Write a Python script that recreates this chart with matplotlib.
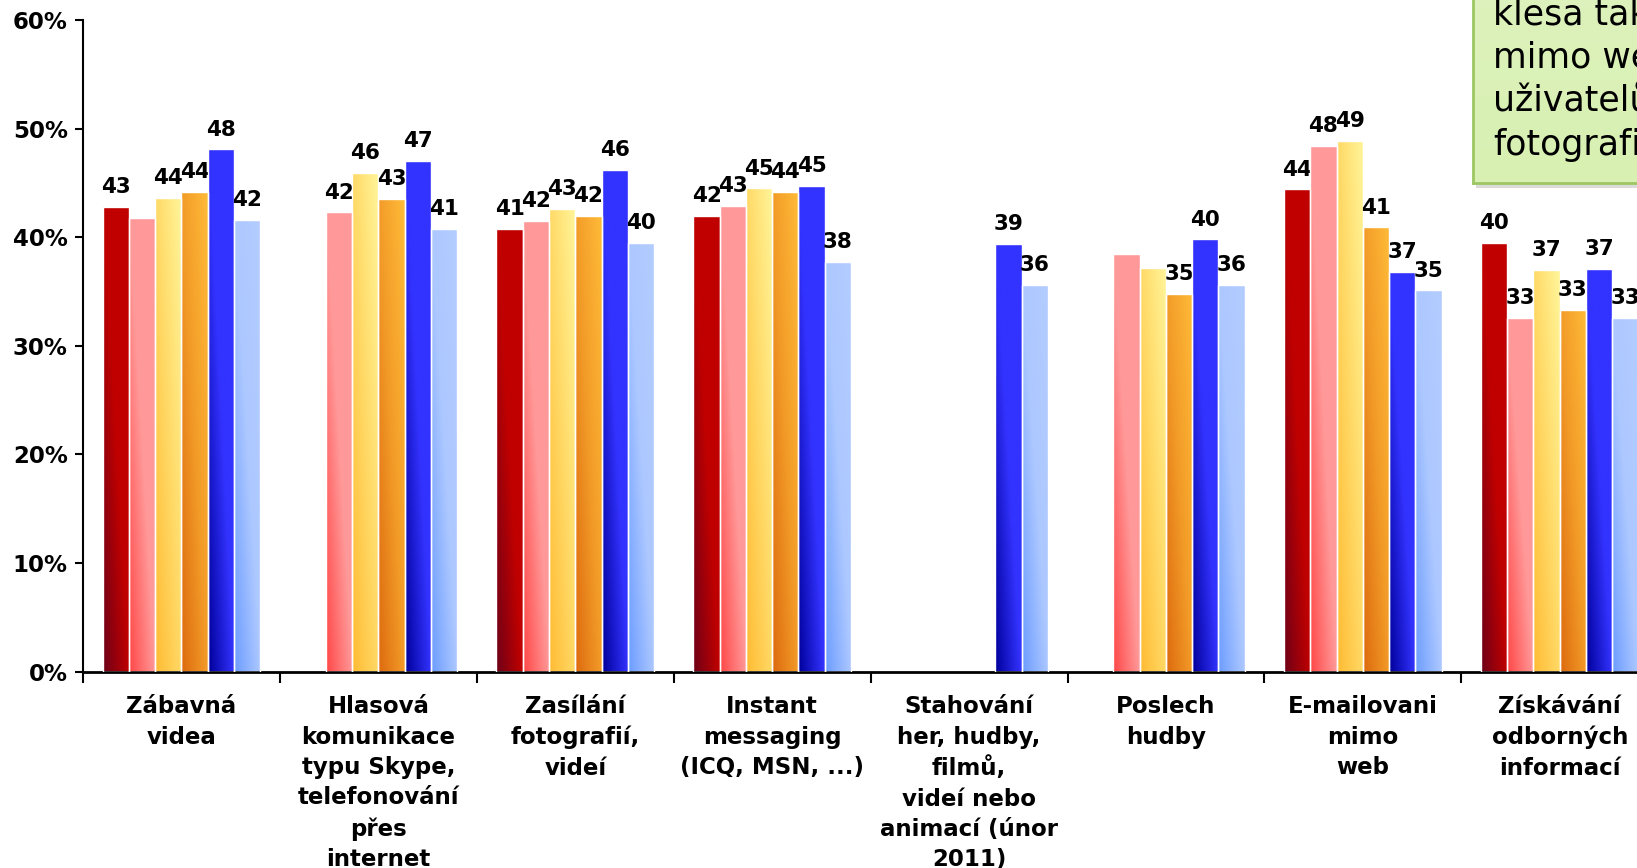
import numpy as np
import matplotlib
matplotlib.use("Agg")
import matplotlib.pyplot as plt
from matplotlib.colors import LinearSegmentedColormap
from matplotlib.patches import Rectangle

plt.rcParams['font.family'] = ['DejaVu Sans']

categories = ["Zábavná\nvidea",
              "Hlasová\nkomunikace\ntypu Skype,\ntelefonování\npřes\ninternet",
              "Zasílání\nfotografií,\nvideí",
              "Instant\nmessaging\n(ICQ, MSN, ...)",
              "Stahování\nher, hudby,\nfilmů,\nvideí nebo\nanimací (únor\n2011)",
              "Poslech\nhudby",
              "E-mailovani\nmimo\nweb",
              "Získávání\nodborných\ninformací"]

nan = np.nan
s_red    = [42.8, nan, 40.8, 42.0, nan, nan, 44.4, 39.5]
s_pink   = [41.8, 42.3, 41.5, 42.9, nan, 38.5, 48.4, 32.6]
s_yellow = [43.6, 45.9, 42.6, 44.5, nan, 37.2, 48.9, 37.0]
s_orange = [44.2, 43.5, 42.0, 44.2, nan, 34.8, 40.9, 33.3]
s_blue   = [48.1, 47.0, 46.2, 44.7, 39.4, 39.8, 36.8, 37.1]
s_lblue  = [41.6, 40.8, 39.5, 37.7, 35.6, 35.6, 35.1, 32.6]

# shown data labels (None = no label in the original)
l_red    = [43, None, 41, 42, None, None, 44, 40]
l_pink   = [None, 42, 42, 43, None, None, 48, 33]
l_yellow = [44, 46, 43, 45, None, None, 49, 37]
l_orange = [44, 43, 42, 44, None, 35, 41, 33]
l_blue   = [48, 47, 46, 45, 39, 40, 37, 37]
l_lblue  = [42, 41, 40, 38, 36, 36, 35, 33]

series = [s_red, s_pink, s_yellow, s_orange, s_blue, s_lblue]
labels = [l_red, l_pink, l_yellow, l_orange, l_blue, l_lblue]
# gradient stops: bottom-left dark -> base -> top-right light
grads = [["#6E0018", "#C00000", "#C00000"],
         ["#FF4747", "#FF9999", "#FF9999"],
         ["#FFBB33", "#FFD966", "#FFF59A"],
         ["#DD6A0E", "#F29B28", "#FFBB38"],
         ["#00009A", "#3333FF", "#3333FF"],
         ["#6C9CFF", "#ADC8FF", "#B3CDFF"]]

fig = plt.figure(figsize=(16.37, 8.68), dpi=100)
W, H = 1637, 868
x0, y0, y60 = 83, 671.7, 20
cw = 196.9
ax = fig.add_axes([x0 / W, (H - y0) / H, 8 * cw / W, (y0 - y60) / H])

n = len(series)
w = 1 / (n + 1.5)
uu, vv = np.meshgrid(np.linspace(0, 1, 40), np.linspace(0, 1, 100))
grad_s = (uu + vv) / 2

for j, vals in enumerate(series):
    cmap = LinearSegmentedColormap.from_list("g%d" % j, grads[j])
    img = cmap(grad_s)
    xs = np.arange(len(categories)) + 0.75 * w + (j + 0.5) * w
    bars = ax.bar(xs, vals, width=w, facecolor='none', edgecolor='white',
                  linewidth=1.0, zorder=3)
    for b, v, lab in zip(bars, vals, labels[j]):
        if np.isnan(v):
            continue
        bx = b.get_x()
        im = ax.imshow(img, extent=[bx, bx + w, 0, v], origin='lower',
                       aspect='auto', interpolation='bilinear', zorder=2)
        im.set_clip_path(b)
        if lab is not None:
            ax.annotate(str(lab), (bx + w / 2, v), xytext=(0, 7),
                        textcoords='offset points', ha='center', va='bottom',
                        fontsize=15.5, fontweight='bold', color='black',
                        annotation_clip=False)

ax.set_xlim(0, len(categories))
ax.set_ylim(0, 60)
ax.set_yticks(range(0, 61, 10))
ax.set_yticklabels(["%d%%" % t for t in range(0, 61, 10)],
                   fontsize=16.5, fontweight='bold')
ax.set_xticks(range(0, len(categories) + 1))
ax.set_xticklabels([])
ax.set_xticks(np.arange(len(categories)) + 0.5, minor=True)
ax.set_xticklabels(categories, minor=True, fontsize=16.5, fontweight='bold',
                   linespacing=1.41)
ax.tick_params(axis='x', which='major', length=8, width=1.5, direction='out')
ax.tick_params(axis='x', which='minor', length=0, pad=17)
ax.tick_params(axis='y', length=6, width=1.5, pad=5)
for sp in ['top', 'right']:
    ax.spines[sp].set_visible(False)
ax.spines['left'].set_linewidth(1.5)
ax.spines['bottom'].set_linewidth(2)

# green note box, cut by the right and top edge of the slide
bx0, by0 = 1472.7, 182.7
shadow = Rectangle(((bx0 + 3) / W, (H - by0 - 5) / H), 1, 1,
                   transform=fig.transFigure, facecolor='#C4C4C4',
                   edgecolor='none', alpha=0.6, zorder=4)
fig.patches.append(shadow)
nax = fig.add_axes([bx0 / W, (H - by0) / H, 1, 1], zorder=5)
ncmap = LinearSegmentedColormap.from_list("note", ["#D8F0B2", "#EEF9E0"])
nax.imshow(ncmap(np.linspace(0, 1, 50))[:, None, :][::-1], aspect='auto',
           extent=[0, 1, 0, 1], origin='upper')
nax.set_xticks([])
nax.set_yticks([])
for sp in ['top', 'right']:
    nax.spines[sp].set_visible(False)
for sp in ['left', 'bottom']:
    nax.spines[sp].set_color('#9DC763')
    nax.spines[sp].set_linewidth(2)

note_lines = ["klesa také", "mimo web", "uživatelů", "fotografie"]
note_base = [25, 68, 112, 155]
for txt, yb in zip(note_lines, note_base):
    fig.text(1493 / W, 1 - yb / H, txt, fontsize=25, color='black',
             va='baseline', ha='left', zorder=6)

fig.savefig("out.png", dpi=100)
